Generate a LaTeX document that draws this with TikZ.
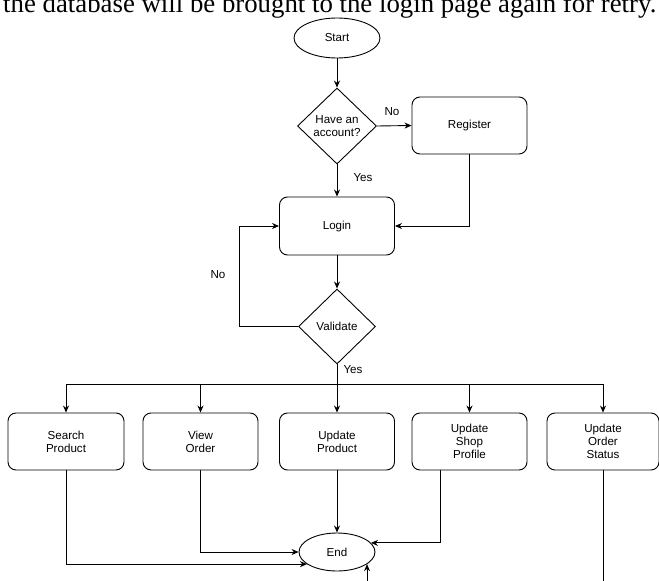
\documentclass[tikz,border=0pt]{standalone}
\usepackage{fontspec}
\setmainfont{Liberation Sans}
\newfontfamily\serifhead{Liberation Serif}
\usetikzlibrary{shapes.geometric,arrows.meta}
\begin{document}
\begin{tikzpicture}[x=1pt,y=-1pt,
  every node/.style={font=\fontsize{11.6}{13}\selectfont, text=black},
  proc/.style={draw, rounded corners=8pt, minimum width=115pt, minimum height=57pt, align=center, inner sep=2pt, line width=0.9pt},
  term/.style={draw, ellipse, minimum width=76pt, minimum height=38pt, inner sep=0pt, line width=0.9pt},
  dec/.style={draw, diamond, minimum width=79pt, minimum height=76pt, inner sep=0pt, align=center, line width=0.9pt},
  conn/.style={line width=0.9pt, -{Stealth[length=7pt,width=6pt]}},
  plain/.style={line width=0.9pt},
  lbl/.style={inner sep=0pt}
]
\useasboundingbox (0,0) rectangle (659,581);
\clip (0,0) rectangle (659,581);
\fill[white] (0,0) rectangle (659,581);
\node[anchor=base west, inner sep=0pt, font=\serifhead\fontsize{26.8}{30}\selectfont] (cap) at (3,12.5) {the database will be brought to the login page again for retry.};

\node[term, minimum width=86pt, minimum height=40pt] (Start) at (337,38) {Start};
\node[dec] (D1) at (337,126) {Have an\\account?};
\node[proc] (Reg) at (469.5,125.5) {Register};
\node[proc, minimum height=58pt] (Login) at (337,226) {Login};
\node[dec, minimum width=77pt, minimum height=75pt] (Val) at (337,326.5) {Validate};
\coordinate (split) at (337,384);

\node[proc, minimum width=116pt] (B1) at (66,441.5) {Search\\Product};
\node[proc] (B2) at (200.5,441.5) {View\\Order};
\node[proc] (B3) at (337,441.5) {Update\\Product};
\node[proc] (B4) at (469.5,441.5) {Update\\Shop\\Profile};
\node[proc, minimum width=112pt] (B5) at (603,441.5) {Update\\Order\\Status};
\node[term] (End) at (337,552) {End};

\node[lbl] (lno1) at (392,112) {No};
\node[lbl] (lyes1) at (363,178) {Yes};
\node[lbl] (lno2) at (218,275) {No};
\node[lbl] (lyes2) at (353,370) {Yes};

\draw[conn] (Start.south) -- (D1.north);
\draw[conn] (D1.east) -- (Reg.west);
\draw[conn] (D1.south) -- (Login.north);
\draw[conn] (Reg.south) |- (Login.east);
\draw[conn] (Login.south) -- (Val.north);
\draw[conn] (Val.west) -- (Val.west -| 239,0) |- (Login.west);
\draw[plain] (Val.south) -- (split);
\draw[conn] (split) -| (B1.north);
\draw[conn] (split) -| (B2.north);
\draw[conn] (split) -- (B3.north);
\draw[conn] (split) -| (B4.north);
\draw[conn] (split) -| (B5.north);

\draw[conn] (B1.south) |- (End.202);
\draw[conn] (B2.south) |- (End.west);
\draw[conn] (B3.south) -- (End.north);
\draw[conn] ([xshift=-29pt]B4.south) |- (End.15);
\draw[conn] (B5.south) -- (B5.south |- 0,600) -| (End.338);
\end{tikzpicture}
\end{document}
